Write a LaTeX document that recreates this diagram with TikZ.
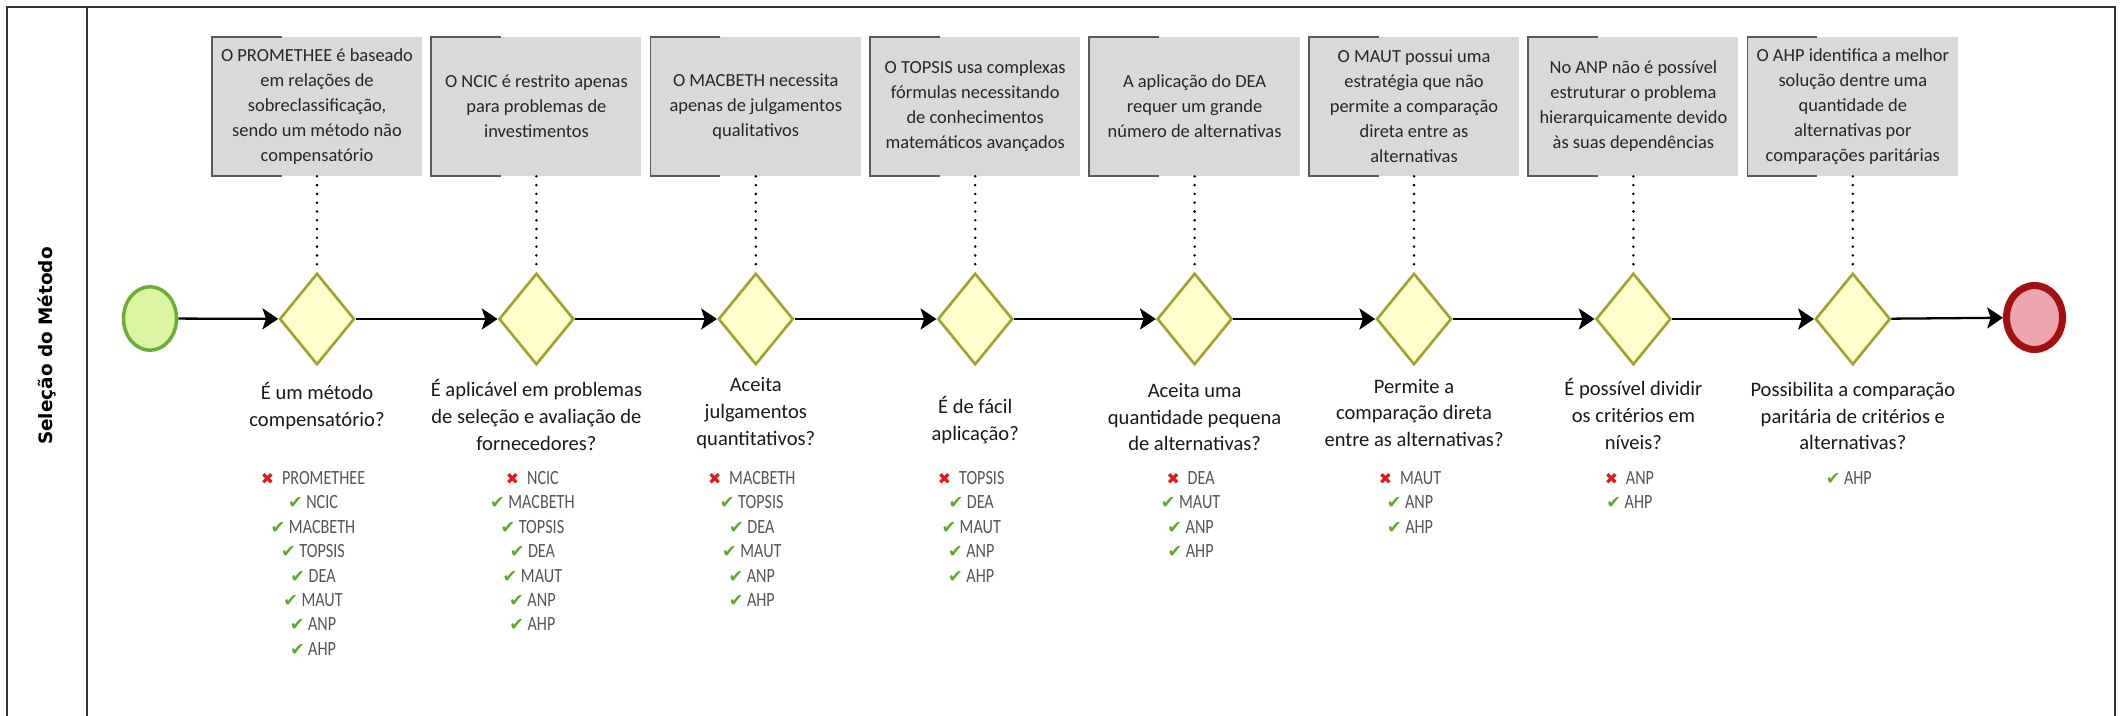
\documentclass[tikz,border=0pt]{standalone}
\usepackage{fontspec}
\setmainfont{Carlito}
\newfontfamily\symfamily{DejaVu Sans}
\newfontfamily\lanefamily{DejaVu Sans}
\usetikzlibrary{calc, shapes.geometric, arrows.meta}

\definecolor{gatefill}{HTML}{FFFFCC}
\definecolor{gateline}{HTML}{A3A32B}
\definecolor{startfill}{HTML}{DCF5A3}
\definecolor{startline}{HTML}{6AAF35}
\definecolor{finishfill}{HTML}{EBA7AD}
\definecolor{finishline}{HTML}{A50F0F}
\definecolor{annotfill}{HTML}{D9D9D9}
\definecolor{annotline}{HTML}{5A5A5A}
\definecolor{crossred}{HTML}{E8141B}
\definecolor{checkgreen}{HTML}{5DAA2B}
\definecolor{itemgray}{HTML}{555555}

\newcommand{\okitem}[1]{{\color{checkgreen}\symfamily\fontsize{10}{10}\selectfont ✔}\hspace{2pt}\scalebox{1}[1.25]{#1}}
\newcommand{\xitem}[1]{{\color{crossred}\symfamily\fontsize{9}{9}\selectfont ✖}\hspace{4.5pt}\scalebox{1}[1.25]{#1}}

\begin{document}
\begin{tikzpicture}[x = 0.02cm, y = -0.02cm,
        gateway/.style = {diamond, draw = gateline, fill = gatefill, line width = 1.5pt, minimum width = 1.5cm, minimum height = 1.83cm, inner sep = 0pt},
        annot/.style = {rectangle, fill = annotfill, minimum width = 4.2cm, minimum height = 2.78cm, inner sep = 0pt, align = center, text = black!85, font = \fontsize{10.5}{14.2}\selectfont},
        bracket/.style = {draw = annotline, line width = 1.1pt},
        question/.style = {align = center, inner sep = 0pt, text = black!90, font = \fontsize{11.7}{15.3}\selectfont},
        methods/.style = {anchor = north, align = center, inner sep = 0pt, text = itemgray, font = \fontsize{9.2}{13.9}\selectfont},
        seqflow/.style = {line width = 1.3pt, -{Stealth[length = 9pt, width = 12pt, inset = 2pt]}},
        assoc/.style = {line width = 1.6pt, line cap = round, dash pattern = on 0pt off 5pt},
        frame/.style = {draw = black!80, line width = 1.4pt}]

            \useasboundingbox (0, 0) rectangle (2125, 716);

            \draw[frame] (7, 716) -- (7, 7) -- (2115, 7) -- (2115, 716);
            \draw[frame] (87, 7) -- (87, 716);
            \node[rotate = 90, font = \lanefamily\bfseries\fontsize{10.5}{12}\selectfont] (lane) at (47, 346) {Seleção do Método};

            \node[ellipse, draw = startline, fill = startfill, line width = 2pt, minimum width = 1.06cm, minimum height = 1.27cm, inner sep = 0pt] (start) at (150, 318.5) {};
            \node[ellipse, draw = finishline, fill = finishfill, line width = 4pt, minimum width = 1.12cm, minimum height = 1.28cm, inner sep = 0pt] (finish) at (2034.5, 317.5) {};

            \foreach \i/\yq/\note/\ask/\items in {
                1/406/{O PROMETHEE é baseado\\em relações de\\sobreclassificação,\\sendo um método não\\compensatório}/{É um método\\compensatório?}/{\xitem{PROMETHEE}\\\okitem{NCIC}\\\okitem{MACBETH}\\\okitem{TOPSIS}\\\okitem{DEA}\\\okitem{MAUT}\\\okitem{ANP}\\\okitem{AHP}},
                2/415/{O NCIC é restrito apenas\\para problemas de\\investimentos}/{É aplicável em problemas\\de seleção e avaliação de\\fornecedores?}/{\xitem{NCIC}\\\okitem{MACBETH}\\\okitem{TOPSIS}\\\okitem{DEA}\\\okitem{MAUT}\\\okitem{ANP}\\\okitem{AHP}},
                3/413/{O MACBETH necessita\\apenas de julgamentos\\qualitativos}/{Aceita\\julgamentos\\quantitativos?}/{\xitem{MACBETH}\\\okitem{TOPSIS}\\\okitem{DEA}\\\okitem{MAUT}\\\okitem{ANP}\\\okitem{AHP}},
                4/420/{O TOPSIS usa complexas\\fórmulas necessitando\\de conhecimentos\\matemáticos avançados}/{É de fácil\\aplicação?}/{\xitem{TOPSIS}\\\okitem{DEA}\\\okitem{MAUT}\\\okitem{ANP}\\\okitem{AHP}},
                5/417/{A aplicação do DEA\\requer um grande\\número de alternativas}/{Aceita uma\\quantidade pequena\\de alternativas?}/{\xitem{DEA}\\\okitem{MAUT}\\\okitem{ANP}\\\okitem{AHP}},
                6/413/{O MAUT possui uma\\estratégia que não\\permite a comparação\\direta entre as\\alternativas}/{Permite a\\comparação direta\\entre as alternativas?}/{\xitem{MAUT}\\\okitem{ANP}\\\okitem{AHP}},
                7/414/{No ANP não é possível\\estruturar o problema\\hierarquicamente devido\\às suas dependências}/{É possível dividir\\os critérios em\\níveis?}/{\xitem{ANP}\\\okitem{AHP}},
                8/416/{O AHP identifica a melhor\\solução dentre uma\\quantidade de\\alternativas por\\comparações paritárias}/{Possibilita a comparação\\paritária de critérios e\\alternativas?}/{\okitem{AHP}}} {
                \node[gateway] (g\i) at ({317 + (\i - 1) * 219.4}, 319) {};
                \node[annot] (n\i) at ({317 + (\i - 1) * 219.4}, 106.5) {\note};
                \draw[bracket] ([xshift = 1.4cm] n\i.north west) -- (n\i.north west) -- (n\i.south west) -- ([xshift = 1.4cm] n\i.south west);
                \draw[assoc] (n\i.south) -- (g\i.north);
                \node[question] (q\i) at ({317 + (\i - 1) * 219.4}, \yq) {\ask};
                \node[methods] (l\i) at ({313 + (\i - 1) * 219.4}, 471) {\items};
            }

            \draw[seqflow] (start) -- (g1);
            \foreach \i [evaluate = \i as \j using int(\i + 1)] in {1, ..., 7} {
                \draw[seqflow] (g\i) -- (g\j);
            }
            \draw[seqflow] (g8) -- (finish);
        \end{tikzpicture}
\end{document}
